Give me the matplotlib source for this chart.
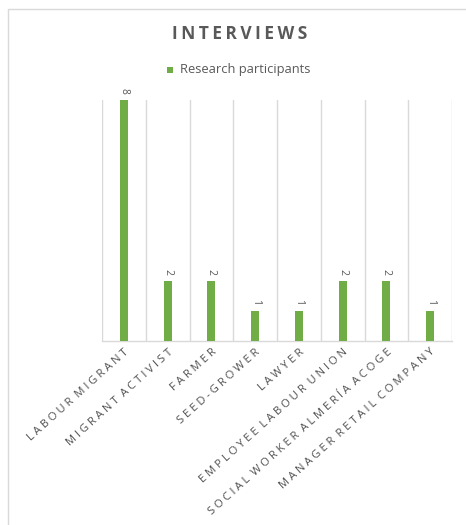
import matplotlib.pyplot as plt
from matplotlib.patches import Rectangle

# Interview counts per participant group
categories = ['LABOUR MIGRANT', 'MIGRANT ACTIVIST', 'FARMER', 'SEED-GROWER', 'LAWYER',
              'EMPLOYEE LABOUR UNION', 'SOCIAL WORKER ALMERÍA ACOGE', 'MANAGER RETAIL COMPANY']
participants = [8, 2, 2, 1, 1, 2, 2, 1]

green = '#70AD47'
text_grey = '#595959'
line_grey = '#D9D9D9'

plt.rcParams['font.family'] = ['Open Sans', 'DejaVu Sans']

fig = plt.figure(figsize=(4.66, 5.25), dpi=100)

# chart frame
fig.patches.append(Rectangle((8 / 466, -0.1), 1.1, 1 - 9 / 525 + 0.1, transform=fig.transFigure,
                             facecolor='none', edgecolor=line_grey, linewidth=1.0))

ax = fig.add_axes([102 / 466, 1 - 341 / 525, 350 / 466, 241 / 525])
x = list(range(len(categories)))
bars = ax.bar(x, participants, width=0.18, color=green, zorder=3)

ax.set_xlim(-0.5, len(categories) - 0.5)
ax.set_ylim(0, 8)

# vertical separators between categories
for b in range(len(categories) + 1):
    ax.axvline(b - 0.5, color=line_grey, linewidth=1.0, zorder=1)

for s in ['top', 'left', 'right']:
    ax.spines[s].set_visible(False)
ax.spines['bottom'].set_color(line_grey)
ax.spines['bottom'].set_linewidth(1.0)
ax.set_yticks([])
ax.set_xticks(x)
ax.tick_params(axis='x', length=0, pad=4)
ax.set_xticklabels([' '.join(c).replace('   ', '  ') for c in categories], rotation=42,
                   ha='right', va='top', rotation_mode='anchor',
                   fontsize=8.1, color='#505050')

# value labels above the bars
for xi, v in zip(x, participants):
    ax.text(xi, v + 0.2, str(v), rotation=-90, ha='center', va='bottom',
            fontsize=7.5, color=text_grey, clip_on=False)

fig.text(240 / 466, 1 - 34 / 525, '\u2009'.join('INTERVIEWS'), ha='center', va='center',
         fontsize=12.5, fontweight='bold', color=text_grey)

# legend
fig.patches.append(Rectangle((167 / 466, 1 - 73 / 525), 6 / 466, 6 / 525, transform=fig.transFigure,
                             facecolor=green, edgecolor='none'))
fig.text(180 / 466, 1 - 70 / 525, 'Research participants', ha='left', va='center',
         fontsize=9.3, color=text_grey)

fig.savefig('out.png', dpi=100)
